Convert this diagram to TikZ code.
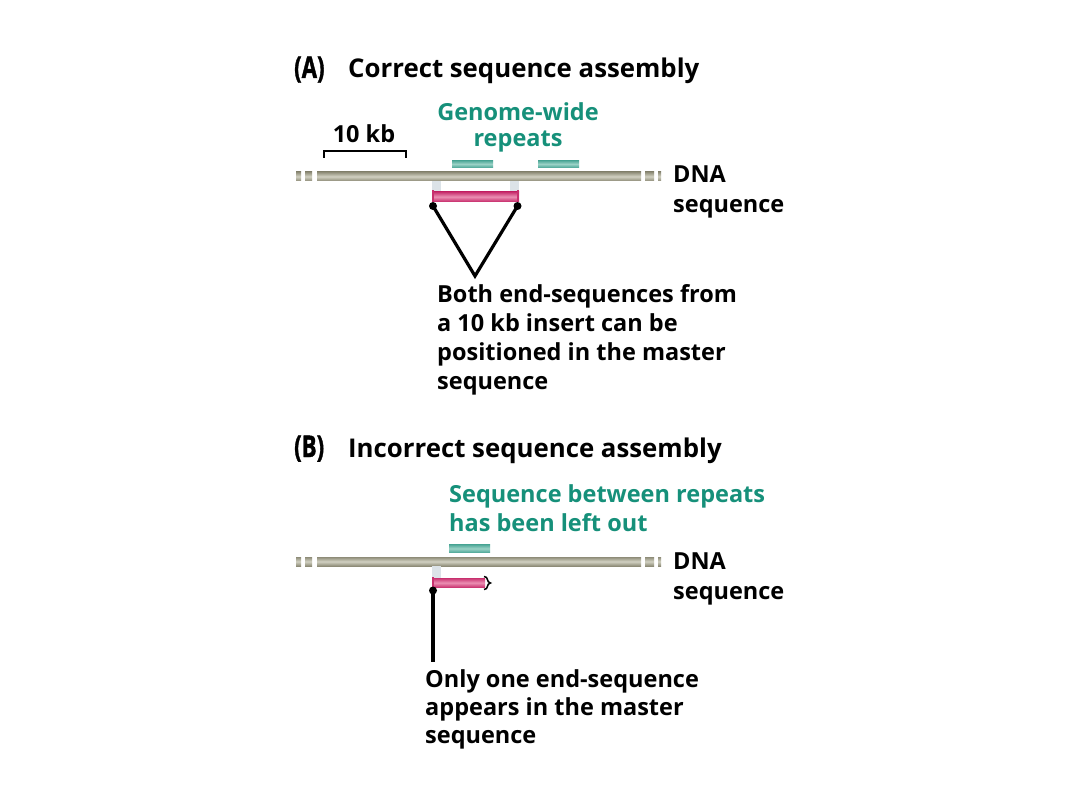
\documentclass[tikz,border=0pt]{standalone}
\usepackage{fontspec}
\setmainfont{Open Sans}
\newfontfamily\labfont{Open Sans}[BoldFeatures={FakeBold=1.5}]
\usepackage{graphicx}
\definecolor{tealtext}{HTML}{16907A}
\definecolor{repdark}{HTML}{4FA898}
\definecolor{replight}{HTML}{9AD2C6}
\definecolor{dnadark}{HTML}{8E8C78}
\definecolor{dnalight}{HTML}{D2D1C2}
\definecolor{pinkdark}{HTML}{C8306E}
\definecolor{pinklight}{HTML}{EB8FB3}
\definecolor{gapgray}{HTML}{DCE3E8}
\tikzset{
  body/.style={anchor=base west, inner sep=0pt, font=\fontsize{23.5}{29}\selectfont\bfseries},
  tealtxt/.style={body, text=tealtext},
  titletxt/.style={anchor=base west, inner sep=0pt, font=\fontsize{25.8}{32}\selectfont\bfseries},
  dnabar/.style={top color=dnadark, bottom color=dnadark, middle color=dnalight},
  repbar/.style={top color=repdark, bottom color=repdark, middle color=replight},
  insbar/.style={top color=pinkdark, bottom color=pinkdark, middle color=pinklight},
  gapbox/.style={fill=gapgray},
  conn/.style={line width=3.2pt, black},
  enddot/.style={circle, fill=black, inner sep=0pt, minimum size=8pt},
  scalebar/.style={line width=2.8pt, black},
}
\newcommand{\dnaline}[1]{%
  \foreach \xa/\xb in {296/301, 305/312, 317/641, 645/654, 658/661}
    \shade[dnabar] (\xa,#1-4.5) rectangle (\xb,#1+4.5);
}
\newcommand{\panellab}[1]{\scalebox{0.74}[1]{\labfont\bfseries\fontsize{30}{34}\selectfont #1}}
\begin{document}
\begin{tikzpicture}[x=1pt, y=-1pt]
\useasboundingbox (0,0) rectangle (1080,810);
\fill[white] (0,0) rectangle (1080,810);

% ---------------- Panel A ----------------
\node[titletxt] (labA) at (294,78) {\panellab{(A)}};
\node[titletxt] (titleA) at (348,78) {Correct sequence assembly};

\node[tealtxt, anchor=base] (gw1) at (518,121) {Genome-wide};
\node[tealtxt, anchor=base] (gw2) at (518,147) {repeats};

\node[body, anchor=base] (kb) at (364,143) {10 kb};
\draw[scalebar] (324,158) -- (324,151) -- (406,151) -- (406,158);

\shade[repbar] (452,160.5) rectangle (493,167.5);
\shade[repbar] (538,160.5) rectangle (579,167.5);

\dnaline{176.5}

\fill[gapbox] (432,181) rectangle (441,192);
\fill[gapbox] (510,181) rectangle (519,192);
\shade[insbar] (432,192) rectangle (519,201.5);
\fill[pinkdark] (431.5,190) rectangle (434,202.5);
\fill[pinkdark] (516.5,190) rectangle (519,202.5);

\node[body] (dnaA1) at (673,183) {DNA};
\node[body] (dnaA2) at (673,213) {sequence};

\node[enddot] (eA1) at (433,206) {};
\node[enddot] (eA2) at (517.5,206) {};
\coordinate (apexA) at (475,276);
\draw[conn] (eA1.center) -- (apexA) -- (eA2.center);

\node[body] (cA1) at (437,303) {Both end-sequences from};
\node[body] (cA2) at (437,332) {a 10 kb insert can be};
\node[body] (cA3) at (437,361) {positioned in the master};
\node[body] (cA4) at (437,390) {sequence};

% ---------------- Panel B ----------------
\node[titletxt] (labB) at (294,457) {\panellab{(B)}};
\node[titletxt] (titleB) at (348,457) {Incorrect sequence assembly};

\node[tealtxt] (sb1) at (449,503) {Sequence between repeats};
\node[tealtxt] (sb2) at (449,531) {has been left out};

\shade[repbar] (449,544.5) rectangle (490,552.5);

\dnaline{561.5}

\fill[gapbox] (432,566) rectangle (441,578);
\shade[insbar] (432,578) rectangle (485,587.5);
\fill[pinkdark] (431.5,576.5) rectangle (434,588.5);
\draw[line width=1.5pt, black] (484,576.5) .. controls (489,576.5) and (486,582.5) .. (490.5,583)
  .. controls (486,583.5) and (489,589.5) .. (484,589.5);

\node[body] (dnaB1) at (673,569) {DNA};
\node[body] (dnaB2) at (673,599) {sequence};

\node[enddot] (eB1) at (433,590.5) {};
\coordinate (endB) at (433,662);
\draw[conn] (eB1.center) -- (endB);

\node[body] (cB1) at (425,687) {Only one end-sequence};
\node[body] (cB2) at (425,715) {appears in the master};
\node[body] (cB3) at (425,743) {sequence};
\end{tikzpicture}
\end{document}
